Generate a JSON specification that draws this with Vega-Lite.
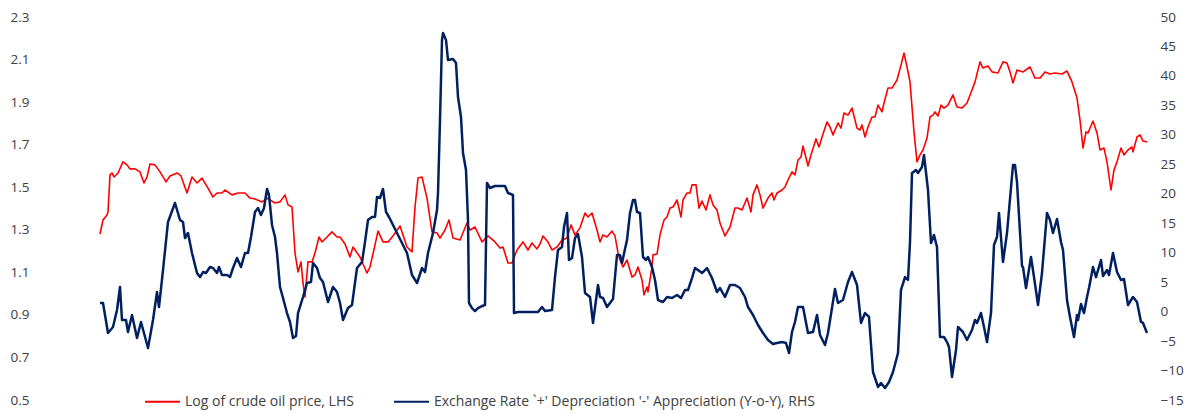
{
  "$schema": "https://vega.github.io/schema/vega-lite/v6.json",
  "width": 1047,
  "height": 383,
  "autosize": {"type": "none"},
  "padding": {"left": 100, "top": 17, "right": 37, "bottom": 14},
  "background": "white",
  "config": {"view": {"stroke": null}, "font": "Open Sans"},
  "datasets": {
    "oil": [
      {"t":0,"v":1.280},{"t":3,"v":1.346},{"t":7,"v":1.370},{"t":8,"v":1.384},{"t":10,"v":1.558},{"t":12,"v":1.567},{"t":14,"v":1.548},{"t":18,"v":1.567},{"t":23,"v":1.619},{"t":27,"v":1.605},{"t":30,"v":1.586},{"t":35,"v":1.586},{"t":40,"v":1.572},{"t":44,"v":1.520},{"t":47,"v":1.548},{"t":50,"v":1.609},{"t":55,"v":1.605},{"t":60,"v":1.572},{"t":66,"v":1.525},{"t":70,"v":1.553},{"t":77,"v":1.567},{"t":81,"v":1.553},{"t":87,"v":1.473},{"t":92,"v":1.548},{"t":97,"v":1.520},{"t":102,"v":1.543},{"t":108,"v":1.496},{"t":113,"v":1.454},{"t":117,"v":1.473},{"t":122,"v":1.473},{"t":125,"v":1.487},{"t":132,"v":1.464},{"t":138,"v":1.473},{"t":145,"v":1.473},{"t":150,"v":1.449},{"t":155,"v":1.445},{"t":162,"v":1.431},{"t":167,"v":1.449},{"t":175,"v":1.426},{"t":180,"v":1.431},{"t":185,"v":1.464},{"t":188,"v":1.417},{"t":192,"v":1.407},{"t":195,"v":1.191},{"t":198,"v":1.102},{"t":201,"v":1.149},{"t":203,"v":1.050},{"t":205,"v":0.984},{"t":208,"v":1.149},{"t":212,"v":1.149},{"t":215,"v":1.191},{"t":219,"v":1.266},{"t":222,"v":1.243},{"t":227,"v":1.266},{"t":232,"v":1.290},{"t":237,"v":1.266},{"t":240,"v":1.266},{"t":245,"v":1.233},{"t":250,"v":1.172},{"t":253,"v":1.219},{"t":260,"v":1.172},{"t":267,"v":1.097},{"t":270,"v":1.125},{"t":275,"v":1.229},{"t":278,"v":1.294},{"t":283,"v":1.243},{"t":288,"v":1.243},{"t":293,"v":1.271},{"t":300,"v":1.318},{"t":307,"v":1.219},{"t":312,"v":1.196},{"t":315,"v":1.407},{"t":318,"v":1.543},{"t":322,"v":1.548},{"t":327,"v":1.449},{"t":332,"v":1.290},{"t":337,"v":1.285},{"t":340,"v":1.261},{"t":345,"v":1.299},{"t":349,"v":1.346},{"t":353,"v":1.261},{"t":360,"v":1.252},{"t":367,"v":1.332},{"t":370,"v":1.299},{"t":375,"v":1.313},{"t":382,"v":1.243},{"t":388,"v":1.271},{"t":395,"v":1.243},{"t":400,"v":1.214},{"t":403,"v":1.219},{"t":408,"v":1.144},{"t":412,"v":1.144},{"t":417,"v":1.205},{"t":423,"v":1.243},{"t":428,"v":1.205},{"t":432,"v":1.238},{"t":437,"v":1.210},{"t":440,"v":1.233},{"t":443,"v":1.271},{"t":448,"v":1.243},{"t":452,"v":1.205},{"t":457,"v":1.219},{"t":462,"v":1.252},{"t":467,"v":1.261},{"t":471,"v":1.323},{"t":475,"v":1.276},{"t":480,"v":1.309},{"t":485,"v":1.379},{"t":488,"v":1.360},{"t":492,"v":1.379},{"t":497,"v":1.299},{"t":500,"v":1.243},{"t":503,"v":1.276},{"t":507,"v":1.266},{"t":512,"v":1.294},{"t":515,"v":1.271},{"t":518,"v":1.191},{"t":520,"v":1.158},{"t":523,"v":1.125},{"t":527,"v":1.158},{"t":532,"v":1.078},{"t":535,"v":1.088},{"t":538,"v":1.125},{"t":542,"v":1.064},{"t":544,"v":0.994},{"t":547,"v":1.031},{"t":548,"v":1.008},{"t":552,"v":1.125},{"t":553,"v":1.182},{"t":557,"v":1.186},{"t":560,"v":1.276},{"t":564,"v":1.346},{"t":567,"v":1.360},{"t":570,"v":1.402},{"t":573,"v":1.407},{"t":577,"v":1.440},{"t":581,"v":1.360},{"t":583,"v":1.440},{"t":587,"v":1.473},{"t":590,"v":1.473},{"t":592,"v":1.511},{"t":596,"v":1.511},{"t":599,"v":1.402},{"t":602,"v":1.435},{"t":606,"v":1.393},{"t":610,"v":1.464},{"t":613,"v":1.417},{"t":617,"v":1.393},{"t":620,"v":1.332},{"t":625,"v":1.271},{"t":630,"v":1.313},{"t":635,"v":1.402},{"t":638,"v":1.402},{"t":642,"v":1.393},{"t":647,"v":1.449},{"t":651,"v":1.384},{"t":653,"v":1.464},{"t":657,"v":1.511},{"t":660,"v":1.464},{"t":663,"v":1.402},{"t":668,"v":1.449},{"t":672,"v":1.473},{"t":674,"v":1.440},{"t":677,"v":1.473},{"t":682,"v":1.487},{"t":685,"v":1.501},{"t":688,"v":1.534},{"t":692,"v":1.572},{"t":695,"v":1.558},{"t":698,"v":1.628},{"t":701,"v":1.642},{"t":703,"v":1.694},{"t":708,"v":1.600},{"t":711,"v":1.652},{"t":716,"v":1.727},{"t":719,"v":1.689},{"t":722,"v":1.736},{"t":727,"v":1.807},{"t":730,"v":1.783},{"t":733,"v":1.746},{"t":738,"v":1.802},{"t":741,"v":1.778},{"t":744,"v":1.849},{"t":748,"v":1.839},{"t":752,"v":1.872},{"t":757,"v":1.778},{"t":760,"v":1.769},{"t":762,"v":1.793},{"t":765,"v":1.736},{"t":768,"v":1.783},{"t":772,"v":1.830},{"t":775,"v":1.830},{"t":778,"v":1.886},{"t":782,"v":1.854},{"t":784,"v":1.896},{"t":788,"v":1.966},{"t":792,"v":1.966},{"t":797,"v":2.004},{"t":801,"v":2.074},{"t":804,"v":2.131},{"t":807,"v":2.065},{"t":810,"v":1.995},{"t":814,"v":1.760},{"t":817,"v":1.619},{"t":820,"v":1.652},{"t":823,"v":1.675},{"t":827,"v":1.731},{"t":830,"v":1.830},{"t":833,"v":1.839},{"t":835,"v":1.854},{"t":838,"v":1.835},{"t":841,"v":1.886},{"t":844,"v":1.872},{"t":848,"v":1.886},{"t":853,"v":1.934},{"t":857,"v":1.877},{"t":862,"v":1.872},{"t":867,"v":1.896},{"t":872,"v":1.957},{"t":875,"v":1.995},{"t":880,"v":2.089},{"t":883,"v":2.060},{"t":888,"v":2.070},{"t":892,"v":2.042},{"t":898,"v":2.037},{"t":903,"v":2.089},{"t":907,"v":2.084},{"t":910,"v":2.042},{"t":913,"v":1.990},{"t":917,"v":2.051},{"t":923,"v":2.042},{"t":930,"v":2.065},{"t":935,"v":2.013},{"t":940,"v":2.013},{"t":945,"v":2.042},{"t":950,"v":2.032},{"t":955,"v":2.037},{"t":962,"v":2.032},{"t":967,"v":2.046},{"t":972,"v":1.995},{"t":977,"v":1.919},{"t":980,"v":1.816},{"t":983,"v":1.684},{"t":986,"v":1.760},{"t":988,"v":1.755},{"t":993,"v":1.811},{"t":997,"v":1.755},{"t":1000,"v":1.675},{"t":1004,"v":1.684},{"t":1007,"v":1.619},{"t":1011,"v":1.487},{"t":1014,"v":1.581},{"t":1017,"v":1.619},{"t":1021,"v":1.684},{"t":1024,"v":1.652},{"t":1028,"v":1.675},{"t":1032,"v":1.689},{"t":1033,"v":1.666},{"t":1037,"v":1.736},{"t":1040,"v":1.746},{"t":1043,"v":1.717},{"t":1047,"v":1.713}
    ],
    "fx": [
      {"t":0,"v":1.46},{"t":3,"v":1.46},{"t":8,"v":-3.63},{"t":13,"v":-2.61},{"t":17,"v":0.28},{"t":20,"v":4.18},{"t":22,"v":-1.42},{"t":26,"v":-1.42},{"t":28,"v":-3.46},{"t":32,"v":-0.57},{"t":37,"v":-4.48},{"t":41,"v":-1.76},{"t":48,"v":-6.17},{"t":53,"v":-1.42},{"t":57,"v":3.33},{"t":59,"v":0.78},{"t":63,"v":7.06},{"t":68,"v":15.21},{"t":75,"v":18.43},{"t":80,"v":15.55},{"t":83,"v":15.21},{"t":85,"v":12.49},{"t":88,"v":13.34},{"t":92,"v":9.95},{"t":97,"v":6.55},{"t":100,"v":5.87},{"t":103,"v":6.72},{"t":106,"v":6.55},{"t":110,"v":7.57},{"t":113,"v":7.40},{"t":117,"v":6.55},{"t":119,"v":7.57},{"t":122,"v":6.21},{"t":127,"v":6.21},{"t":130,"v":5.87},{"t":133,"v":7.40},{"t":137,"v":9.10},{"t":141,"v":7.57},{"t":145,"v":9.95},{"t":148,"v":9.95},{"t":151,"v":12.66},{"t":155,"v":16.91},{"t":158,"v":17.58},{"t":161,"v":16.40},{"t":164,"v":17.58},{"t":167,"v":20.81},{"t":169,"v":19.79},{"t":172,"v":14.70},{"t":175,"v":12.66},{"t":177,"v":9.95},{"t":180,"v":4.18},{"t":183,"v":2.31},{"t":187,"v":-0.24},{"t":190,"v":-1.76},{"t":193,"v":-4.48},{"t":196,"v":-4.14},{"t":198,"v":-0.24},{"t":203,"v":2.48},{"t":207,"v":4.86},{"t":211,"v":5.03},{"t":213,"v":8.25},{"t":217,"v":7.40},{"t":220,"v":5.70},{"t":223,"v":5.03},{"t":228,"v":1.63},{"t":233,"v":4.18},{"t":237,"v":3.33},{"t":240,"v":1.46},{"t":243,"v":-1.42},{"t":248,"v":0.61},{"t":252,"v":1.12},{"t":257,"v":7.40},{"t":262,"v":8.42},{"t":265,"v":11.81},{"t":268,"v":15.55},{"t":272,"v":16.06},{"t":275,"v":16.06},{"t":277,"v":19.45},{"t":280,"v":19.28},{"t":283,"v":20.81},{"t":286,"v":16.91},{"t":289,"v":16.06},{"t":293,"v":14.70},{"t":297,"v":13.34},{"t":302,"v":11.65},{"t":307,"v":9.95},{"t":312,"v":6.21},{"t":317,"v":4.86},{"t":322,"v":7.40},{"t":325,"v":6.72},{"t":328,"v":9.95},{"t":333,"v":13.34},{"t":337,"v":17.25},{"t":338,"v":20.13},{"t":340,"v":32.52},{"t":342,"v":46.10},{"t":343,"v":47.28},{"t":346,"v":46.10},{"t":348,"v":42.70},{"t":353,"v":42.87},{"t":356,"v":42.19},{"t":358,"v":36.43},{"t":361,"v":33.03},{"t":363,"v":26.92},{"t":366,"v":24.03},{"t":368,"v":15.55},{"t":369,"v":1.46},{"t":372,"v":0.61},{"t":375,"v":0.10},{"t":378,"v":0.61},{"t":382,"v":0.95},{"t":385,"v":1.12},{"t":387,"v":21.83},{"t":390,"v":20.98},{"t":395,"v":21.32},{"t":405,"v":21.32},{"t":408,"v":20.13},{"t":413,"v":19.79},{"t":414,"v":-0.24},{"t":418,"v":-0.07},{"t":428,"v":-0.07},{"t":438,"v":-0.07},{"t":442,"v":0.78},{"t":445,"v":0.10},{"t":452,"v":0.28},{"t":455,"v":5.87},{"t":458,"v":10.46},{"t":462,"v":10.97},{"t":464,"v":14.36},{"t":467,"v":16.74},{"t":469,"v":8.76},{"t":472,"v":9.10},{"t":475,"v":12.49},{"t":478,"v":13.17},{"t":482,"v":9.27},{"t":485,"v":3.16},{"t":490,"v":2.48},{"t":493,"v":-1.93},{"t":498,"v":4.52},{"t":500,"v":2.48},{"t":503,"v":2.31},{"t":507,"v":0.78},{"t":510,"v":1.46},{"t":513,"v":2.14},{"t":517,"v":9.61},{"t":520,"v":9.61},{"t":522,"v":8.25},{"t":525,"v":10.63},{"t":527,"v":12.15},{"t":530,"v":16.74},{"t":533,"v":18.94},{"t":535,"v":18.94},{"t":537,"v":16.91},{"t":540,"v":16.74},{"t":543,"v":9.27},{"t":546,"v":8.76},{"t":548,"v":9.27},{"t":552,"v":7.57},{"t":555,"v":5.37},{"t":558,"v":1.97},{"t":563,"v":1.63},{"t":567,"v":2.48},{"t":572,"v":2.31},{"t":577,"v":2.82},{"t":581,"v":2.31},{"t":585,"v":3.67},{"t":588,"v":3.67},{"t":592,"v":5.70},{"t":595,"v":7.40},{"t":598,"v":7.06},{"t":602,"v":6.55},{"t":607,"v":7.40},{"t":612,"v":5.70},{"t":617,"v":3.33},{"t":620,"v":4.01},{"t":625,"v":2.48},{"t":630,"v":4.52},{"t":635,"v":4.52},{"t":640,"v":4.01},{"t":645,"v":2.48},{"t":648,"v":0.78},{"t":653,"v":-0.57},{"t":658,"v":-2.27},{"t":663,"v":-3.63},{"t":668,"v":-4.82},{"t":673,"v":-5.50},{"t":677,"v":-5.33},{"t":682,"v":-5.16},{"t":686,"v":-5.33},{"t":689,"v":-7.02},{"t":692,"v":-3.46},{"t":695,"v":-1.76},{"t":698,"v":0.78},{"t":703,"v":0.78},{"t":708,"v":-3.63},{"t":713,"v":-3.46},{"t":717,"v":-0.57},{"t":720,"v":-3.97},{"t":725,"v":-5.67},{"t":728,"v":-3.63},{"t":735,"v":3.84},{"t":738,"v":1.46},{"t":743,"v":1.97},{"t":748,"v":5.03},{"t":752,"v":6.72},{"t":757,"v":4.52},{"t":761,"v":-1.93},{"t":765,"v":-0.24},{"t":769,"v":-0.91},{"t":773,"v":-10.25},{"t":778,"v":-12.79},{"t":781,"v":-12.11},{"t":785,"v":-12.96},{"t":789,"v":-11.94},{"t":793,"v":-10.25},{"t":798,"v":-7.02},{"t":801,"v":3.67},{"t":805,"v":5.87},{"t":808,"v":5.37},{"t":810,"v":11.81},{"t":812,"v":23.52},{"t":816,"v":24.03},{"t":818,"v":23.52},{"t":822,"v":24.54},{"t":824,"v":26.58},{"t":828,"v":20.64},{"t":831,"v":11.64},{"t":834,"v":13.00},{"t":837,"v":10.97},{"t":840,"v":-4.31},{"t":844,"v":-4.31},{"t":847,"v":-5.16},{"t":849,"v":-6.00},{"t":852,"v":-11.09},{"t":856,"v":-6.51},{"t":858,"v":-2.61},{"t":863,"v":-3.46},{"t":867,"v":-4.82},{"t":872,"v":-3.12},{"t":875,"v":-1.42},{"t":877,"v":-1.93},{"t":881,"v":-0.24},{"t":884,"v":-2.61},{"t":887,"v":-5.16},{"t":891,"v":-0.24},{"t":894,"v":11.30},{"t":897,"v":12.66},{"t":899,"v":16.74},{"t":903,"v":8.42},{"t":907,"v":13.34},{"t":913,"v":24.88},{"t":915,"v":24.88},{"t":917,"v":22.00},{"t":922,"v":7.74},{"t":923,"v":7.57},{"t":926,"v":4.01},{"t":931,"v":9.27},{"t":934,"v":5.87},{"t":938,"v":1.12},{"t":942,"v":6.55},{"t":947,"v":16.74},{"t":950,"v":15.55},{"t":953,"v":13.34},{"t":957,"v":15.72},{"t":961,"v":11.81},{"t":963,"v":10.46},{"t":967,"v":1.97},{"t":970,"v":-0.91},{"t":974,"v":-4.31},{"t":977,"v":-0.57},{"t":978,"v":-1.42},{"t":981,"v":1.29},{"t":984,"v":-0.24},{"t":987,"v":2.48},{"t":989,"v":4.01},{"t":993,"v":7.57},{"t":996,"v":5.87},{"t":1001,"v":8.76},{"t":1003,"v":6.04},{"t":1007,"v":7.06},{"t":1009,"v":6.21},{"t":1013,"v":9.95},{"t":1017,"v":6.72},{"t":1021,"v":5.37},{"t":1024,"v":5.54},{"t":1028,"v":1.12},{"t":1033,"v":2.48},{"t":1037,"v":1.63},{"t":1041,"v":-1.76},{"t":1043,"v":-1.93},{"t":1047,"v":-3.63}
    ]
  },
  "layer": [
    {
      "data": {"name": "oil"},
      "mark": {"type": "line", "strokeWidth": 1.6, "strokeJoin": "round"},
      "encoding": {
        "x": {"field": "t", "type": "quantitative", "scale": {"domain": [0, 1047], "nice": false, "zero": false}, "axis": null},
        "y": {"field": "v", "type": "quantitative", "scale": {"domain": [0.5, 2.3], "nice": false, "zero": false},
          "axis": {"orient": "left", "values": [0.5, 0.7, 0.9, 1.1, 1.3, 1.5, 1.7, 1.9, 2.1, 2.3], "format": ".1f", "title": null, "domain": false, "ticks": false, "grid": false, "labelPadding": 71, "labelFont": "Open Sans", "labelFontSize": 13.5, "labelColor": "#404040"}},
        "color": {"datum": "Log of crude oil price, LHS", "type": "nominal",
          "scale": {"domain": ["Log of crude oil price, LHS", "Exchange Rate `+' Depreciation '-' Appreciation (Y-o-Y), RHS"], "range": ["#FF0000", "#002060"]},
          "legend": {"orient": "none", "legendX": 44, "legendY": 366, "direction": "horizontal", "title": null, "symbolType": "stroke", "symbolSize": 1225, "symbolStrokeWidth": 2, "labelFont": "Open Sans", "labelFontSize": 14, "labelColor": "#404040", "labelOffset": 4, "labelLimit": 0, "columnPadding": 36, "padding": 0}}
      }
    },
    {
      "data": {"name": "fx"},
      "mark": {"type": "line", "strokeWidth": 2.5, "strokeJoin": "round"},
      "encoding": {
        "x": {"field": "t", "type": "quantitative", "scale": {"domain": [0, 1047], "nice": false, "zero": false}, "axis": null},
        "y": {"field": "v", "type": "quantitative", "scale": {"domain": [-15, 50], "nice": false, "zero": false},
          "axis": {"orient": "right", "values": [-15, -10, -5, 0, 5, 10, 15, 20, 25, 30, 35, 40, 45, 50], "title": null, "domain": false, "ticks": false, "grid": false, "labelPadding": 13, "labelFont": "Open Sans", "labelFontSize": 13.5, "labelColor": "#404040"}},
        "color": {"datum": "Exchange Rate `+' Depreciation '-' Appreciation (Y-o-Y), RHS", "type": "nominal"}
      }
    }
  ],
  "resolve": {"scale": {"y": "independent"}}
}
